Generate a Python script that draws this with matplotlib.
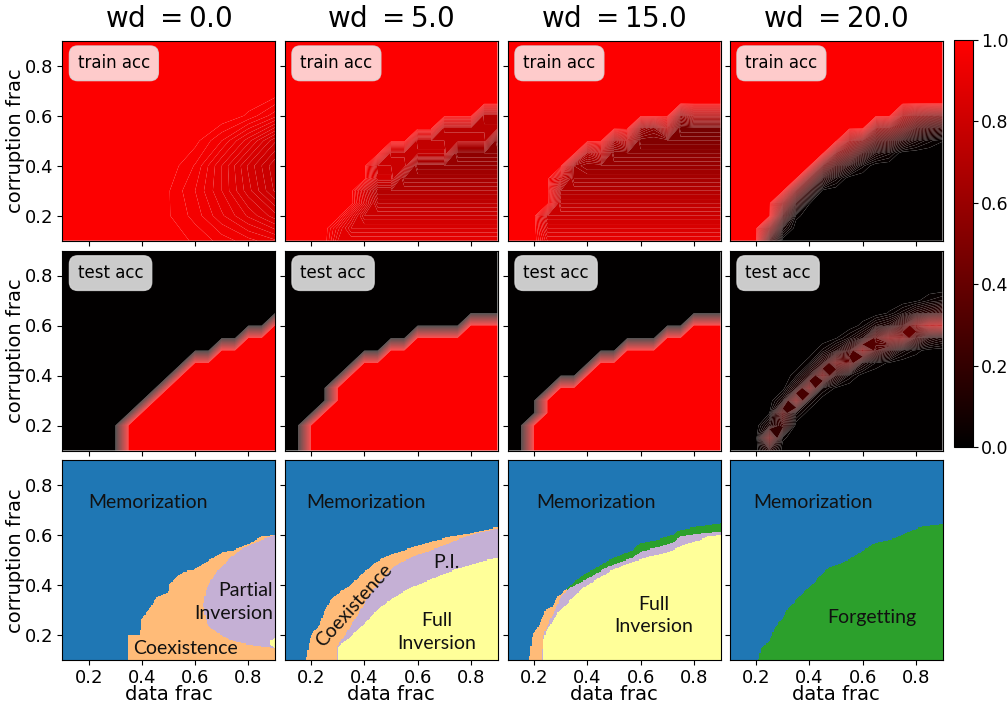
import numpy as np
import matplotlib
matplotlib.use("Agg")
import matplotlib.pyplot as plt
from matplotlib.colors import LinearSegmentedColormap, ListedColormap, Normalize
from matplotlib.cm import ScalarMappable

# ---------------- data ----------------
WD_VALUES = [0.0, 5.0, 15.0, 20.0]
TICKS = [0.2, 0.4, 0.6, 0.8]
PHASE_NAMES = ["Memorization", "Coexistence", "Partial Inversion", "Full Inversion", "Forgetting"]
PHASE_COLORS = ["#1f77b4", "#ffbb78", "#c5b0d5", "#ffff99", "#2ca02c"]

# wd = 0 : memorization boundary (corruption frac vs data frac)
WD0_MEM_X = [0.10, 0.345, 0.346, 0.392, 0.396, 0.43, 0.455, 0.50, 0.505, 0.556, 0.594, 0.644, 0.707, 0.745, 0.808, 0.846, 0.90]
WD0_MEM_Y = [0.00, 0.00, 0.20, 0.20, 0.26, 0.307, 0.35, 0.373, 0.407, 0.453, 0.46, 0.493, 0.533, 0.54, 0.567, 0.593, 0.60]
# wd = 0 : partial inversion lens
WD0_PI_X = [0.632, 0.64, 0.65, 0.68, 0.73, 0.77, 0.80, 0.85, 0.90]
WD0_PI_LO = [0.32, 0.262, 0.235, 0.21, 0.18, 0.167, 0.16, 0.153, 0.147]
WD0_PI_HI = [0.32, 0.37, 0.40, 0.45, 0.505, 0.54, 0.555, 0.58, 0.60]
# wd = 0 : tiny full inversion corner
WD0_FI_X = [0.885, 0.90]
WD0_FI_LO = [0.16, 0.147]
WD0_FI_HI = [0.175, 0.187]
# wd = 0 : train accuracy table (rows: corruption 0.1..0.9, cols: data 0.1..0.9)
WD0_TRAIN = [
    [1, 1, 1, 1, 0.995, 0.98, 0.96, 0.94, 0.92],
    [1, 1, 1, 1, 0.985, 0.96, 0.92, 0.88, 0.84],
    [1, 1, 1, 1, 0.985, 0.95, 0.90, 0.84, 0.78],
    [1, 1, 1, 1, 0.995, 0.965, 0.90, 0.83, 0.77],
    [1, 1, 1, 1, 1.000, 0.99, 0.95, 0.89, 0.82],
    [1, 1, 1, 1, 1.000, 1.00, 1.00, 0.98, 0.94],
    [1, 1, 1, 1, 1.000, 1.00, 1.00, 1.00, 1.00],
    [1, 1, 1, 1, 1.000, 1.00, 1.00, 1.00, 1.00],
    [1, 1, 1, 1, 1.000, 1.00, 1.00, 1.00, 1.00],
]

# wd = 5
WD5_MEM_X = [0.10, 0.177, 0.178, 0.19, 0.197, 0.229, 0.247, 0.266, 0.292, 0.329, 0.367, 0.399, 0.443, 0.493, 0.569, 0.644, 0.72, 0.796, 0.90]
WD5_MEM_Y = [0.00, 0.00, 0.10, 0.173, 0.20, 0.24, 0.293, 0.333, 0.36, 0.387, 0.42, 0.453, 0.493, 0.52, 0.547, 0.573, 0.593, 0.607, 0.633]
WD5_PI_X = [0.10, 0.29, 0.292, 0.31, 0.342, 0.38, 0.418, 0.468, 0.518, 0.594, 0.67, 0.745, 0.82, 0.90]
WD5_PI_Y = [0.00, 0.00, 0.15, 0.175, 0.227, 0.293, 0.36, 0.427, 0.48, 0.52, 0.547, 0.58, 0.607, 0.627]
WD5_FI_X = [0.10, 0.297, 0.298, 0.317, 0.355, 0.405, 0.455, 0.506, 0.569, 0.644, 0.72, 0.796, 0.86, 0.90]
WD5_FI_Y = [0.00, 0.00, 0.147, 0.167, 0.20, 0.253, 0.307, 0.347, 0.387, 0.42, 0.453, 0.48, 0.50, 0.507]

# wd = 15
WD15_MEM_X = [0.10, 0.177, 0.178, 0.19, 0.21, 0.241, 0.266, 0.285, 0.31, 0.342, 0.392, 0.43, 0.48, 0.569, 0.594, 0.657, 0.72, 0.745, 0.808, 0.90]
WD15_MEM_Y = [0.00, 0.00, 0.10, 0.20, 0.227, 0.30, 0.313, 0.353, 0.373, 0.407, 0.447, 0.467, 0.50, 0.54, 0.567, 0.58, 0.60, 0.62, 0.633, 0.647]
WD15_PI_X = [0.10, 0.227, 0.228, 0.233, 0.254, 0.279, 0.298, 0.33, 0.39, 0.43, 0.48, 0.57, 0.60, 0.66, 0.72, 0.75, 0.81, 0.90]
WD15_PI_Y = [0.00, 0.00, 0.13, 0.20, 0.253, 0.307, 0.353, 0.387, 0.42, 0.445, 0.475, 0.51, 0.535, 0.55, 0.57, 0.595, 0.605, 0.615]
WD15_FI_X = [0.10, 0.229, 0.231, 0.241, 0.266, 0.29, 0.342, 0.38, 0.43, 0.493, 0.569, 0.632, 0.707, 0.758, 0.82, 0.846, 0.90]
WD15_FI_Y = [0.00, 0.00, 0.173, 0.213, 0.253, 0.293, 0.347, 0.387, 0.42, 0.46, 0.493, 0.513, 0.533, 0.56, 0.58, 0.593, 0.60]
WD15_STRIP_SPLIT = 0.32  # thin strip above P.I.: coexistence left of this, forgetting right

# wd = 20
WD20_FG_X = [0.10, 0.205, 0.206, 0.216, 0.247, 0.266, 0.298, 0.317, 0.342, 0.38, 0.418, 0.468, 0.531, 0.594, 0.644, 0.72, 0.77, 0.82, 0.90]
WD20_FG_Y = [0.00, 0.00, 0.10, 0.147, 0.173, 0.227, 0.267, 0.307, 0.333, 0.373, 0.413, 0.467, 0.493, 0.533, 0.567, 0.587, 0.613, 0.633, 0.644]

# accuracy levels inside phases
PI_TRAIN_SLOPE = 0.5                      # train acc = 1 - slope * corruption in P.I.
FORG_TRAIN_DEPTH = [0.0, 0.05, 0.10, 0.15]  # depth below the forgetting boundary
FORG_TRAIN_VAL = [0.7, 0.45, 0.15, 0.0]
# wd = 20 test acc: band around the boundary (signed distance above boundary)
WD20_TEST_DIST = [-0.14, -0.09, -0.065, -0.04, -0.015, 0.01, 0.05, 0.08]
WD20_TEST_SHAPE = [0.0, 0.12, 0.55, 1.0, 0.55, 0.22, 0.08, 0.0]
WD20_TEST_X = [0.2, 0.4, 0.6, 0.8, 0.9]
WD20_TEST_PEAK = [0.5, 0.5, 0.55, 0.7, 0.8]

# label placements for the phase panels: (text, x, y, rotation, align)
PHASE_LABELS = [
    [("Memorization", 0.424, 0.733, 0, "center"), ("Partial\nInversion", 0.893, 0.333, 0, "right"),
     ("Coexistence", 0.562, 0.149, 0, "center")],
    [("Memorization", 0.405, 0.733, 0, "center"), ("P.I.", 0.707, 0.493, 0, "center"),
     ("Coexistence", 0.36, 0.32, 48, "center"), ("Full\nInversion", 0.672, 0.213, 0, "center")],
    [("Memorization", 0.433, 0.733, 0, "center"), ("Full\nInversion", 0.648, 0.28, 0, "center")],
    [("Memorization", 0.415, 0.73, 0, "center"), ("Forgetting", 0.636, 0.273, 0, "center")],
]

MEM, COEX, PI, FI, FORG = 0, 1, 2, 3, 4


def phase_map(i, X, Y):
    if i == 0:
        P = np.full(X.shape, COEX)
        lo = np.interp(X, WD0_PI_X, WD0_PI_LO)
        hi = np.interp(X, WD0_PI_X, WD0_PI_HI)
        P[(X >= WD0_PI_X[0]) & (Y > lo) & (Y < hi)] = PI
        flo = np.interp(X, WD0_FI_X, WD0_FI_LO)
        fhi = np.interp(X, WD0_FI_X, WD0_FI_HI)
        P[(X >= WD0_FI_X[0]) & (Y > flo) & (Y < fhi)] = FI
        mb = np.interp(X, WD0_MEM_X, WD0_MEM_Y)
        P[Y > mb] = MEM
    elif i == 1:
        P = np.full(X.shape, COEX)
        P[Y < np.interp(X, WD5_PI_X, WD5_PI_Y)] = PI
        P[Y < np.interp(X, WD5_FI_X, WD5_FI_Y)] = FI
        mb = np.interp(X, WD5_MEM_X, WD5_MEM_Y)
        P[Y > mb] = MEM
    elif i == 2:
        P = np.where(X < WD15_STRIP_SPLIT, COEX, FORG)
        P[Y < np.interp(X, WD15_PI_X, WD15_PI_Y)] = PI
        P[Y < np.interp(X, WD15_FI_X, WD15_FI_Y)] = FI
        mb = np.interp(X, WD15_MEM_X, WD15_MEM_Y)
        P[Y > mb] = MEM
    else:
        mb = np.interp(X, WD20_FG_X, WD20_FG_Y)
        P = np.where(Y <= mb, FORG, MEM)
    return P, mb


# ---------------- figure ----------------
W, H = 1008, 706
fig = plt.figure(figsize=(W / 100, H / 100), dpi=100)
col_left = [62, 284.5, 507.5, 729.5]
col_w = 213
row_top = [40.7, 250.5, 460.3]
row_h = 200


def rect(c, r):
    return [col_left[c] / W, 1 - (row_top[r] + row_h) / H, col_w / W, row_h / H]


cmap = LinearSegmentedColormap.from_list("blackred", ["#000000", "#ff0000"])
levels = np.linspace(0, 1, 61)
pcmap = ListedColormap(PHASE_COLORS)

xg = np.round(np.arange(0.1, 0.9001, 0.05), 3)
yg = np.round(np.arange(0.1, 0.9001, 0.05), 3)
XC, YC = np.meshgrid(xg, yg)
x9 = np.round(np.arange(0.1, 0.9001, 0.1), 3)

xf = np.linspace(0.1, 0.9, 181)
XF, YF = np.meshgrid(xf, xf)

label_font = ["Lato", "DejaVu Sans"]
all_axes = []

for c, wd in enumerate(WD_VALUES):
    PC, mbc = phase_map(c, XC, YC)
    depth = mbc - YC
    # train accuracy
    train = np.ones_like(XC)
    train[PC == PI] = 1 - PI_TRAIN_SLOPE * YC[PC == PI]
    train[PC == FI] = 1 - YC[PC == FI]
    fmask = PC == FORG
    train[fmask] = np.interp(depth[fmask], FORG_TRAIN_DEPTH, FORG_TRAIN_VAL)
    # test accuracy
    test = np.where((PC == COEX) | (PC == PI) | (PC == FI), 1.0, 0.0)
    if c == 3:
        peak = np.interp(XC, WD20_TEST_X, WD20_TEST_PEAK)
        shape = np.interp(-depth, WD20_TEST_DIST, WD20_TEST_SHAPE)
        test = peak * shape

    for r, (Z, label) in enumerate([(train, "train acc"), (test, "test acc")]):
        ax = fig.add_axes(rect(c, r))
        all_axes.append((ax, c, r))
        if c == 0 and r == 0:
            ax.contourf(x9, x9, np.array(WD0_TRAIN), levels=levels, cmap=cmap,
                        vmin=0, vmax=1, antialiased=True)
        else:
            ax.contourf(xg, yg, np.clip(Z, 0, 1), levels=levels, cmap=cmap,
                        vmin=0, vmax=1, antialiased=True)
        ax.text(0.074, 0.887, label, transform=ax.transAxes, fontsize=12,
                ha="left", va="center",
                bbox=dict(boxstyle="round,pad=0.5", facecolor="white", alpha=0.8,
                          edgecolor="#dddddd"))
        if r == 0:
            ax.set_title(r"wd $=" + f"{wd}" + r"$", fontsize=20, pad=10)

    # phase panel
    PF, _ = phase_map(c, XF, YF)
    ax = fig.add_axes(rect(c, 2))
    all_axes.append((ax, c, 2))
    ax.imshow(PF, origin="lower", extent=[0.1, 0.9, 0.1, 0.9], cmap=pcmap,
              vmin=-0.5, vmax=4.5, interpolation="nearest", aspect="auto")
    for (txt, lx, ly, rot, al) in PHASE_LABELS[c]:
        ax.text(lx, ly, txt, fontsize=14, family=label_font, ha=al, va="center",
                rotation=rot, multialignment=al, color="#111111", linespacing=1.4,
                rotation_mode="anchor" if rot else "default")

for ax, c, r in all_axes:
    ax.set_xlim(0.1, 0.9)
    ax.set_ylim(0.1, 0.9)
    ax.set_xticks(TICKS)
    ax.set_yticks(TICKS)
    ax.tick_params(labelsize=13, labelbottom=(r == 2), labelleft=(c == 0))
    ax.tick_params(axis="x", pad=2.5)
    ax.tick_params(axis="y", pad=2.5)
    if c == 0:
        ax.set_ylabel("corruption frac", fontsize=14)
        ax.yaxis.set_label_coords(-0.172, 0.5)
    if r == 2:
        ax.set_xlabel("data frac", fontsize=14)
        ax.xaxis.set_label_coords(0.5, -0.122)

cax = fig.add_axes([954 / W, 1 - 447 / H, 19 / W, 407 / H])
sm = ScalarMappable(norm=Normalize(0, 1), cmap=cmap)
cb = fig.colorbar(sm, cax=cax, ticks=[0.0, 0.2, 0.4, 0.6, 0.8, 1.0])
cb.ax.tick_params(labelsize=12.5, pad=2)
cb.outline.set_linewidth(0.8)

fig.savefig("out.png", dpi=100)
